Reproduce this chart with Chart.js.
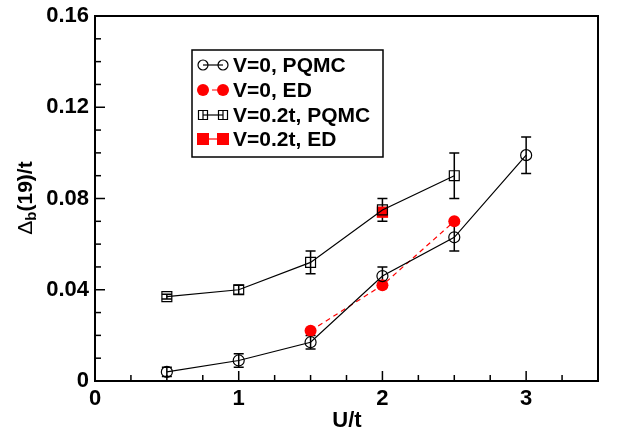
<!DOCTYPE html>
<html>
<head>
<meta charset="utf-8">
<script src="https://cdn.jsdelivr.net/npm/chart.js@4"></script>
<style>
  html, body { margin: 0; padding: 0; background: #fff; }
  #box { width: 623px; height: 430px; }
</style>
</head>
<body>
<div id="box"><canvas id="grafico"></canvas></div>
<script>
// dados
const uPqmc0 = [0.5, 1, 1.5, 2, 2.5, 3];
const deltaPqmc0 = [0.004, 0.009, 0.017, 0.046, 0.063, 0.099];
const erroPqmc0 = [0.002, 0.003, 0.003, 0.004, 0.006, 0.008];

const uEd0 = [1.5, 2, 2.5];
const deltaEd0 = [0.022, 0.042, 0.070];

const uPqmc02 = [0.5, 1, 1.5, 2, 2.5];
const deltaPqmc02 = [0.037, 0.040, 0.052, 0.075, 0.090];
const erroPqmc02 = [0.001, 0.002, 0.005, 0.005, 0.010];

const uEd02 = [2];
const deltaEd02 = [0.074];

const ticksY = [0, 0.04, 0.08, 0.12, 0.16];
const ticksX = [0, 1, 2, 3];

const nomes = ['V=0, PQMC', 'V=0, ED', 'V=0.2t, PQMC', 'V=0.2t, ED'];

const fonte = '"Liberation Sans", Arial, sans-serif';

function pontos(xs, ys, erros) {
  return xs.map((x, i) => ({ x: x, y: ys[i], e: erros ? erros[i] : 0 }));
}

const datasets = [
  {
    label: nomes[0], data: pontos(uPqmc0, deltaPqmc0, erroPqmc0),
    showLine: true, borderColor: '#000', borderWidth: 1.2,
    pointStyle: 'circle', pointRadius: 5.5, pointBackgroundColor: 'rgba(0,0,0,0)',
    pointBorderColor: '#000', pointBorderWidth: 1.2, comErro: true
  },
  {
    label: nomes[1], data: pontos(uEd0, deltaEd0),
    showLine: true, borderColor: '#ff0000', borderWidth: 1.2, borderDash: [5, 4],
    pointStyle: 'circle', pointRadius: 6, pointBackgroundColor: '#ff0000',
    pointBorderColor: '#ff0000', pointBorderWidth: 0
  },
  {
    label: nomes[2], data: pontos(uPqmc02, deltaPqmc02, erroPqmc02),
    showLine: true, borderColor: '#000', borderWidth: 1.2,
    pointStyle: 'rect', pointRadius: 7, pointBackgroundColor: 'rgba(0,0,0,0)',
    pointBorderColor: '#000', pointBorderWidth: 1.2, comErro: true
  },
  {
    label: nomes[3], data: pontos(uEd02, deltaEd02),
    showLine: true, borderColor: '#ff0000', borderWidth: 1.2,
    pointStyle: 'rect', pointRadius: 8, pointBackgroundColor: '#ff0000',
    pointBorderColor: '#ff0000', pointBorderWidth: 0
  }
];

// barras de erro, ticks internos, moldura, legenda e rótulos dos eixos
const pluginExtras = {
  id: 'extras',
  beforeDatasetsDraw(chart) {
    const ctx = chart.ctx;
    const sx = chart.scales.x, sy = chart.scales.y;
    ctx.save();
    ctx.strokeStyle = '#000';
    ctx.lineWidth = 1.5;
    chart.data.datasets.forEach(ds => {
      if (!ds.comErro) return;
      ds.data.forEach(p => {
        const px = sx.getPixelForValue(p.x);
        const y1 = sy.getPixelForValue(p.y - p.e);
        const y2 = sy.getPixelForValue(p.y + p.e);
        ctx.beginPath();
        ctx.moveTo(px, y1); ctx.lineTo(px, y2);
        ctx.moveTo(px - 5, y1); ctx.lineTo(px + 5, y1);
        ctx.moveTo(px - 5, y2); ctx.lineTo(px + 5, y2);
        ctx.stroke();
      });
    });
    ctx.restore();
  },
  afterDraw(chart) {
    const ctx = chart.ctx;
    const a = chart.chartArea;
    const sx = chart.scales.x, sy = chart.scales.y;
    ctx.save();
    ctx.strokeStyle = '#000';

    // ticks para dentro
    ctx.lineWidth = 1.5;
    for (let v = 0; v <= 3.5001; v += 0.25) {
      const px = sx.getPixelForValue(v);
      const len = Math.abs(v - Math.round(v)) < 1e-6 ? 10 : 6;
      ctx.beginPath(); ctx.moveTo(px, a.bottom); ctx.lineTo(px, a.bottom - len); ctx.stroke();
    }
    for (let v = 0; v <= 0.1601; v += 0.01) {
      const py = sy.getPixelForValue(v);
      const len = Math.abs(v / 0.04 - Math.round(v / 0.04)) < 1e-6 ? 10 : 6;
      ctx.beginPath(); ctx.moveTo(a.left, py); ctx.lineTo(a.left + len, py); ctx.stroke();
    }

    // moldura
    ctx.lineWidth = 2;
    ctx.strokeRect(a.left, a.top, a.right - a.left, a.bottom - a.top);

    // legenda
    const lx = 192, ly = 50, lw = 191, lh = 107;
    ctx.fillStyle = '#fff';
    ctx.fillRect(lx, ly, lw, lh);
    ctx.lineWidth = 1.5;
    ctx.strokeRect(lx, ly, lw, lh);
    const linhas = [65, 90, 115, 139];
    ctx.font = 'bold 21px ' + fonte;
    ctx.textBaseline = 'middle';
    ctx.textAlign = 'left';
    chart.data.datasets.forEach((ds, i) => {
      const y = linhas[i];
      const x1 = 203, x2 = 223;
      ctx.strokeStyle = ds.borderColor;
      ctx.lineWidth = 1.2;
      ctx.setLineDash(ds.borderDash || []);
      ctx.beginPath(); ctx.moveTo(x1, y); ctx.lineTo(x2, y); ctx.stroke();
      ctx.setLineDash([]);
      [x1, x2].forEach(cx => {
        ctx.beginPath();
        if (ds.pointStyle === 'circle') {
          ctx.arc(cx, y, ds.pointBackgroundColor === '#ff0000' ? 6 : 5, 0, Math.PI * 2);
        } else {
          const h = ds.pointBackgroundColor === '#ff0000' ? 6 : 4.5;
          ctx.rect(cx - h, y - h, 2 * h, 2 * h);
        }
        if (ds.pointBackgroundColor === '#ff0000') {
          ctx.fillStyle = '#ff0000'; ctx.fill();
        } else {
          ctx.strokeStyle = '#000'; ctx.stroke();
          if (ds.comErro && ds.pointStyle === 'rect') {
            ctx.beginPath(); ctx.moveTo(cx, y - 4.5); ctx.lineTo(cx, y + 4.5); ctx.stroke();
          }
        }
      });
      ctx.fillStyle = '#000';
      ctx.fillText(ds.label, 233, y + 1);
    });

    // rótulos dos eixos
    ctx.fillStyle = '#000';
    ctx.font = 'bold 22px ' + fonte;
    ctx.textAlign = 'center';
    ctx.textBaseline = 'alphabetic';
    ctx.fillText('U/t', 347, 427);

    ctx.translate(32, 198);
    ctx.rotate(-Math.PI / 2);
    const p1 = '\u0394', p2 = 'b', p3 = '(19)/t';
    ctx.font = 'normal 21px ' + fonte;
    const w1 = ctx.measureText(p1).width;
    ctx.font = 'bold 21px ' + fonte;
    const w3 = ctx.measureText(p3).width;
    ctx.font = 'bold 15px ' + fonte;
    const w2 = ctx.measureText(p2).width;
    let x0 = -(w1 + w2 + w3) / 2;
    ctx.textAlign = 'left';
    ctx.font = 'normal 21px ' + fonte;
    ctx.fillText(p1, x0, 0);
    ctx.font = 'bold 15px ' + fonte;
    ctx.fillText(p2, x0 + w1, 4);
    ctx.font = 'bold 21px ' + fonte;
    ctx.fillText(p3, x0 + w1 + w2, 0);
    ctx.restore();
  }
};

new Chart(document.getElementById('grafico'), {
  type: 'scatter',
  data: { datasets: datasets },
  plugins: [pluginExtras],
  options: {
    responsive: true,
    maintainAspectRatio: false,
    animation: false,
    layout: { padding: { top: 16, right: 25, left: 0, bottom: 0 } },
    plugins: { legend: { display: false }, tooltip: { enabled: false } },
    scales: {
      x: {
        type: 'linear', min: 0, max: 3.5,
        afterBuildTicks: s => { s.ticks = ticksX.map(v => ({ value: v })); },
        afterFit: s => { s.height = 49; s.paddingLeft = 0; s.paddingRight = 0; },
        grid: { display: false, drawTicks: false },
        border: { display: false },
        ticks: {
          padding: 5, color: '#000',
          font: { family: fonte, size: 22, weight: 'bold' },
          callback: v => String(v)
        }
      },
      y: {
        type: 'linear', min: 0, max: 0.16,
        afterBuildTicks: s => { s.ticks = ticksY.map(v => ({ value: v })); },
        afterFit: s => { s.width = 95; s.paddingTop = 0; s.paddingBottom = 0; },
        grid: { display: false, drawTicks: false },
        border: { display: false },
        ticks: {
          padding: 6, color: '#000',
          font: { family: fonte, size: 22, weight: 'bold' },
          callback: v => v === 0 ? '0' : v.toFixed(2)
        }
      }
    }
  }
});
</script>
</body>
</html>
